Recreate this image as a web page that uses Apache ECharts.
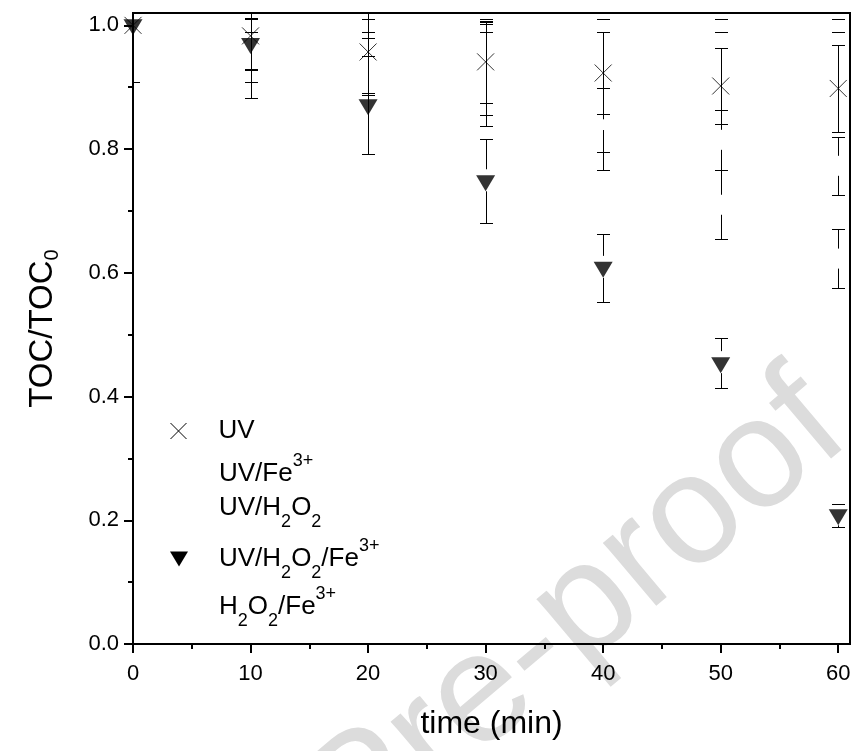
<!DOCTYPE html>
<html>
<head>
<meta charset="utf-8">
<script src="https://cdn.jsdelivr.net/npm/echarts@6/dist/echarts.min.js"></script>
<style>html,body{margin:0;padding:0;background:#fff}#c{width:857px;height:751px}</style>
</head>
<body>
<div id="c"></div>
<script>
// ---------- data ----------
const time = [0, 10, 20, 30, 40, 50, 60];
const uv        = [1.000, 0.983, 0.957, 0.941, 0.923, 0.902, 0.898];
const uvErr     = [0, 0.074, 0.069, 0.066, 0.066, 0.062, 0.070];
const uvFe      = [1.000, 0.970, 0.935, 0.930, 0.847, 0.815, 0.773];
const uvFeErr   = [0, 0.040, 0.045, 0.075, 0.051, 0.049, 0.047];
const uvH2o2    = [1.000, 0.970, 0.940, 0.920, 0.832, 0.710, 0.623];
const uvH2o2Err = [0.091, 0.088, 0.148, 0.083, 0.066, 0.056, 0.048];
const uvH2o2Fe    = [1.000, 0.970, 0.871, 0.748, 0.608, 0.454, 0.208];
const uvH2o2FeErr = [0, 0.042, 0.079, 0.068, 0.055, 0.040, 0.019];
const h2o2Fe    = [1.000, 1.000, 1.000, 1.000, 1.000, 1.000, 1.000];
const h2o2FeErr = [0, 0.011, 0.011, 0.010, 0.011, 0.011, 0.011];
const seriesNames = ['UV', 'UV/Fe3+', 'UV/H2O2', 'UV/H2O2/Fe3+', 'H2O2/Fe3+'];
const xTicks = [0, 10, 20, 30, 40, 50, 60];
const yTicks = [0, 0.2, 0.4, 0.6, 0.8, 1.0];
const yTickLabels = ['0.0', '0.2', '0.4', '0.6', '0.8', '1.0'];

// ---------- styling ----------
const FONT = '"Liberation Sans", Arial, sans-serif';
const X_PATH = 'path://M0,0L16,16M16,0L0,16';
const TRI_PATH = 'path://M0,0L19,0L9.5,16Z';

function rows(vals, errs) { return time.map((t, i) => [t, vals[i], errs[i]]); }

function errRenderer(gapUp, gapDown) {
  return function (params, api) {
    const e = api.value(2);
    if (!(e > 0)) return { type: 'group', children: [] };
    const x = api.value(0), y = api.value(1);
    const c = api.coord([x, y]);
    const t = api.coord([x, y + e]);
    const b = api.coord([x, y - e]);
    const px = Math.round(c[0]) + 0.5;
    const ty = Math.round(t[1]) + 0.5;
    const by = Math.round(b[1]) + 0.5;
    const hw = 6.5;
    const st = { stroke: '#000', lineWidth: 1 };
    const ch = [];
    if (c[1] - gapUp > ty) ch.push({ type: 'line', shape: { x1: px, y1: ty, x2: px, y2: c[1] - gapUp }, style: st });
    if (c[1] + gapDown < by) ch.push({ type: 'line', shape: { x1: px, y1: c[1] + gapDown, x2: px, y2: by }, style: st });
    ch.push({ type: 'line', shape: { x1: px - hw, y1: ty, x2: px + hw, y2: ty }, style: st });
    ch.push({ type: 'line', shape: { x1: px - hw, y1: by, x2: px + hw, y2: by }, style: st });
    return { type: 'group', children: ch };
  };
}

function errSeries(name, vals, errs, gu, gd) {
  return {
    type: 'custom', name: name, data: rows(vals, errs), encode: { x: 0, y: 1 },
    renderItem: errRenderer(gu, gd), clip: true, silent: true, z: 2
  };
}

const RICH = {
  g: { width: 26 },
  n: { fontSize: 26, lineHeight: 60, color: '#000', fontFamily: FONT },
  b: { fontSize: 18, padding: [28, 0, 0, 0], color: '#000', fontFamily: FONT },
  p: { fontSize: 18, padding: [0, 0, 26, 0], color: '#000', fontFamily: FONT }
};
const legendRich = {
  'UV': '{g| }{n|UV}',
  'UV/Fe3+': '{g| }{n|UV/Fe}{p|3+}',
  'UV/H2O2': '{g| }{n|UV/H}{b|2}{n|O}{b|2}',
  'UV/H2O2/Fe3+': '{g| }{n|UV/H}{b|2}{n|O}{b|2}{n|/Fe}{p|3+}',
  'H2O2/Fe3+': '{g| }{n|H}{b|2}{n|O}{b|2}{n|/Fe}{p|3+}'
};
const legendIcons = [X_PATH, 'rect', 'rect', TRI_PATH, 'rect'];
const legendItemStyles = [
  { color: 'rgba(0,0,0,0)', borderColor: '#000', borderWidth: 1 },
  { opacity: 0 }, { opacity: 0 },
  { color: '#000', borderWidth: 0 },
  { opacity: 0 }
];
const legendTops = [418, 452, 495, 537, 585];

const option = {
  animation: false,
  backgroundColor: '#fff',
  textStyle: { fontFamily: FONT },
  graphic: [{
    type: 'text', x: 365, y: 795, rotation: 0.70, z: -10, silent: true,
    style: { text: 'Journal Pre-proof', font: '156px "Liberation Sans", Arial, sans-serif',
      fill: '#dcdcdc', align: 'center', verticalAlign: 'middle' }
  }],
  grid: { left: 133, right: 7, top: 13, bottom: 107, show: true, borderColor: '#000', borderWidth: 2, backgroundColor: 'transparent' },
  legend: seriesNames.map((n, i) => ({
    data: [{ name: n, icon: legendIcons[i], itemStyle: legendItemStyles[i] }],
    orient: 'vertical', left: 170, top: legendTops[i], padding: 0,
    itemWidth: 18, itemHeight: 16, selectedMode: false,
    formatter: name => legendRich[name],
    textStyle: { color: '#000', fontFamily: FONT, fontSize: 26, rich: RICH }
  })),
  xAxis: {
    type: 'value', min: 0, max: 61, interval: 10,
    axisLine: { show: true, onZero: false, lineStyle: { color: '#000', width: 2 } },
    axisTick: { show: true, length: 9, lineStyle: { color: '#000', width: 2 }, customValues: xTicks },
    minorTick: { show: true, splitNumber: 2, length: 5, lineStyle: { color: '#000', width: 2 } },
    axisLabel: { customValues: xTicks, formatter: v => String(v), fontSize: 22, color: '#000', margin: 19, fontFamily: FONT },
    splitLine: { show: false },
    name: 'time (min)', nameLocation: 'middle', nameGap: 64,
    nameTextStyle: { fontSize: 32, color: '#000', fontFamily: FONT }
  },
  yAxis: {
    type: 'value', min: 0, max: 1.02, interval: 0.2,
    axisLine: { show: true, onZero: false, lineStyle: { color: '#000', width: 2 } },
    axisTick: { show: true, length: 9, lineStyle: { color: '#000', width: 2 }, customValues: yTicks },
    minorTick: { show: true, splitNumber: 2, length: 5, lineStyle: { color: '#000', width: 2 } },
    axisLabel: {
      customValues: yTicks,
      formatter: v => { const k = yTicks.findIndex(t => Math.abs(t - v) < 1e-6); return k >= 0 ? yTickLabels[k] : ''; },
      fontSize: 22, color: '#000', margin: 14, fontFamily: FONT
    },
    splitLine: { show: false },
    name: '{a|TOC/TOC}{s|0}', nameLocation: 'middle', nameGap: 71,
    nameTextStyle: { color: '#000', fontFamily: FONT, rich: {
      a: { fontSize: 33, color: '#000', fontFamily: FONT, lineHeight: 36 },
      s: { fontSize: 20, color: '#000', fontFamily: FONT, padding: [18, 0, 0, 0] }
    } }
  },
  series: [
    errSeries('H2O2/Fe3+', h2o2Fe, h2o2FeErr, 10, 10),
    errSeries('UV/Fe3+', uvFe, uvFeErr, 10, 10),
    errSeries('UV/H2O2', uvH2o2, uvH2o2Err, 10, 10),
    errSeries('UV', uv, uvErr, 0, 0),
    errSeries('UV/H2O2/Fe3+', uvH2o2Fe, uvH2o2FeErr, 12, 10),
    {
      type: 'scatter', name: 'UV', data: time.map((t, i) => [t, uv[i]]),
      symbol: X_PATH, symbolSize: 17, silent: true, z: 4,
      itemStyle: { color: 'rgba(0,0,0,0)', borderColor: '#000', borderWidth: 1 }
    },
    {
      type: 'scatter', name: 'UV/H2O2/Fe3+', data: time.map((t, i) => [t, uvH2o2Fe[i]]),
      symbol: TRI_PATH, symbolSize: [19, 16], symbolOffset: [0, 2], silent: true, z: 5,
      itemStyle: { color: '#000' }
    }
  ]
};
const chart = echarts.init(document.getElementById('c'));
chart.setOption(option);
</script>
</body>
</html>
